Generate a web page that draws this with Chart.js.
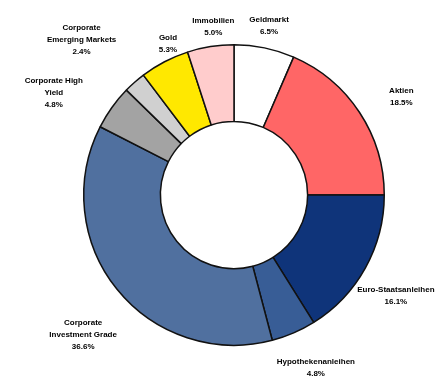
<!DOCTYPE html>
<html>
<head>
<meta charset="utf-8">
<script src="https://cdn.jsdelivr.net/npm/chart.js@4/dist/chart.umd.min.js"></script>
<style>
  html, body { margin: 0; padding: 0; background: #fff; }
  #wrap { width: 446px; height: 380px; }
</style>
</head>
<body>
<div id="wrap"><canvas id="pie"></canvas></div>
<script>
// data, clockwise from 12 o'clock
var labelLines = [
	["Geldmarkt"],
	["Aktien"],
	["Euro-Staatsanleihen"],
	["Hypothekenanleihen"],
	["Corporate", "Investment Grade"],
	["Corporate High", "Yield"],
	["Corporate", "Emerging Markets"],
	["Gold"],
	["Immobilien"]
];
var shares = [6.5, 18.5, 16.1, 4.8, 36.6, 4.8, 2.4, 5.3, 5.0];
var shareText = ["6.5%", "18.5%", "16.1%", "4.8%", "36.6%", "4.8%", "2.4%", "5.3%", "5.0%"];

var sliceColors = ["#ffffff", "#ff6666", "#0f347a", "#385d96", "#50709f", "#a3a3a3", "#d0d0d0", "#ffe800", "#ffcccc"];
// how far out each label sits (times outer radius) and angle nudge in degrees
var labelRadius = [1.15, 1.29, 1.27, 1.27, 1.37, 1.38, 1.45, 1.1, 1.13];
var labelNudge = [0, 3, 3, -2, -4, -6, -3, 4, 2];

var outsideLabels = {
	id: "outsideLabels",
	afterDatasetsDraw: function (chart) {
		var ctx = chart.ctx;
		var arcs = chart.getDatasetMeta(0).data;
		ctx.save();
		ctx.fillStyle = "#000";
		ctx.font = "bold 8px 'Liberation Sans', Arial, sans-serif";
		ctx.textAlign = "center";
		ctx.textBaseline = "middle";
		for (var i = 0; i < arcs.length; i++) {
			var a = arcs[i];
			var mid = (a.startAngle + a.endAngle) / 2 + labelNudge[i] * Math.PI / 180;
			var r = a.outerRadius * labelRadius[i];
			var x = a.x + Math.cos(mid) * r;
			var y = a.y + Math.sin(mid) * r;
			var lines = labelLines[i].concat([shareText[i]]);
			var top = y - (lines.length - 1) * 12 / 2;
			for (var j = 0; j < lines.length; j++) {
				ctx.fillText(lines[j], x, top + j * 12);
			}
		}
		ctx.restore();
	}
};

var ctx = document.getElementById("pie");

var chart = new Chart(ctx, {
	type: "doughnut",
	data: {
		labels: labelLines.map(function (l) { return l.join(" "); }),
		datasets: [{
			data: shares,
			backgroundColor: sliceColors,
			borderColor: "#111",
			borderWidth: 1.5
		}]
	},
	options: {
		responsive: true,
		maintainAspectRatio: false,
		animation: false,
		cutout: "49%",
		layout: { padding: { top: 44, bottom: 34, left: 50, right: 28 } },
		plugins: {
			legend: { display: false },
			tooltip: { enabled: false }
		}
	},
	plugins: [outsideLabels]
});
</script>
</body>
</html>
